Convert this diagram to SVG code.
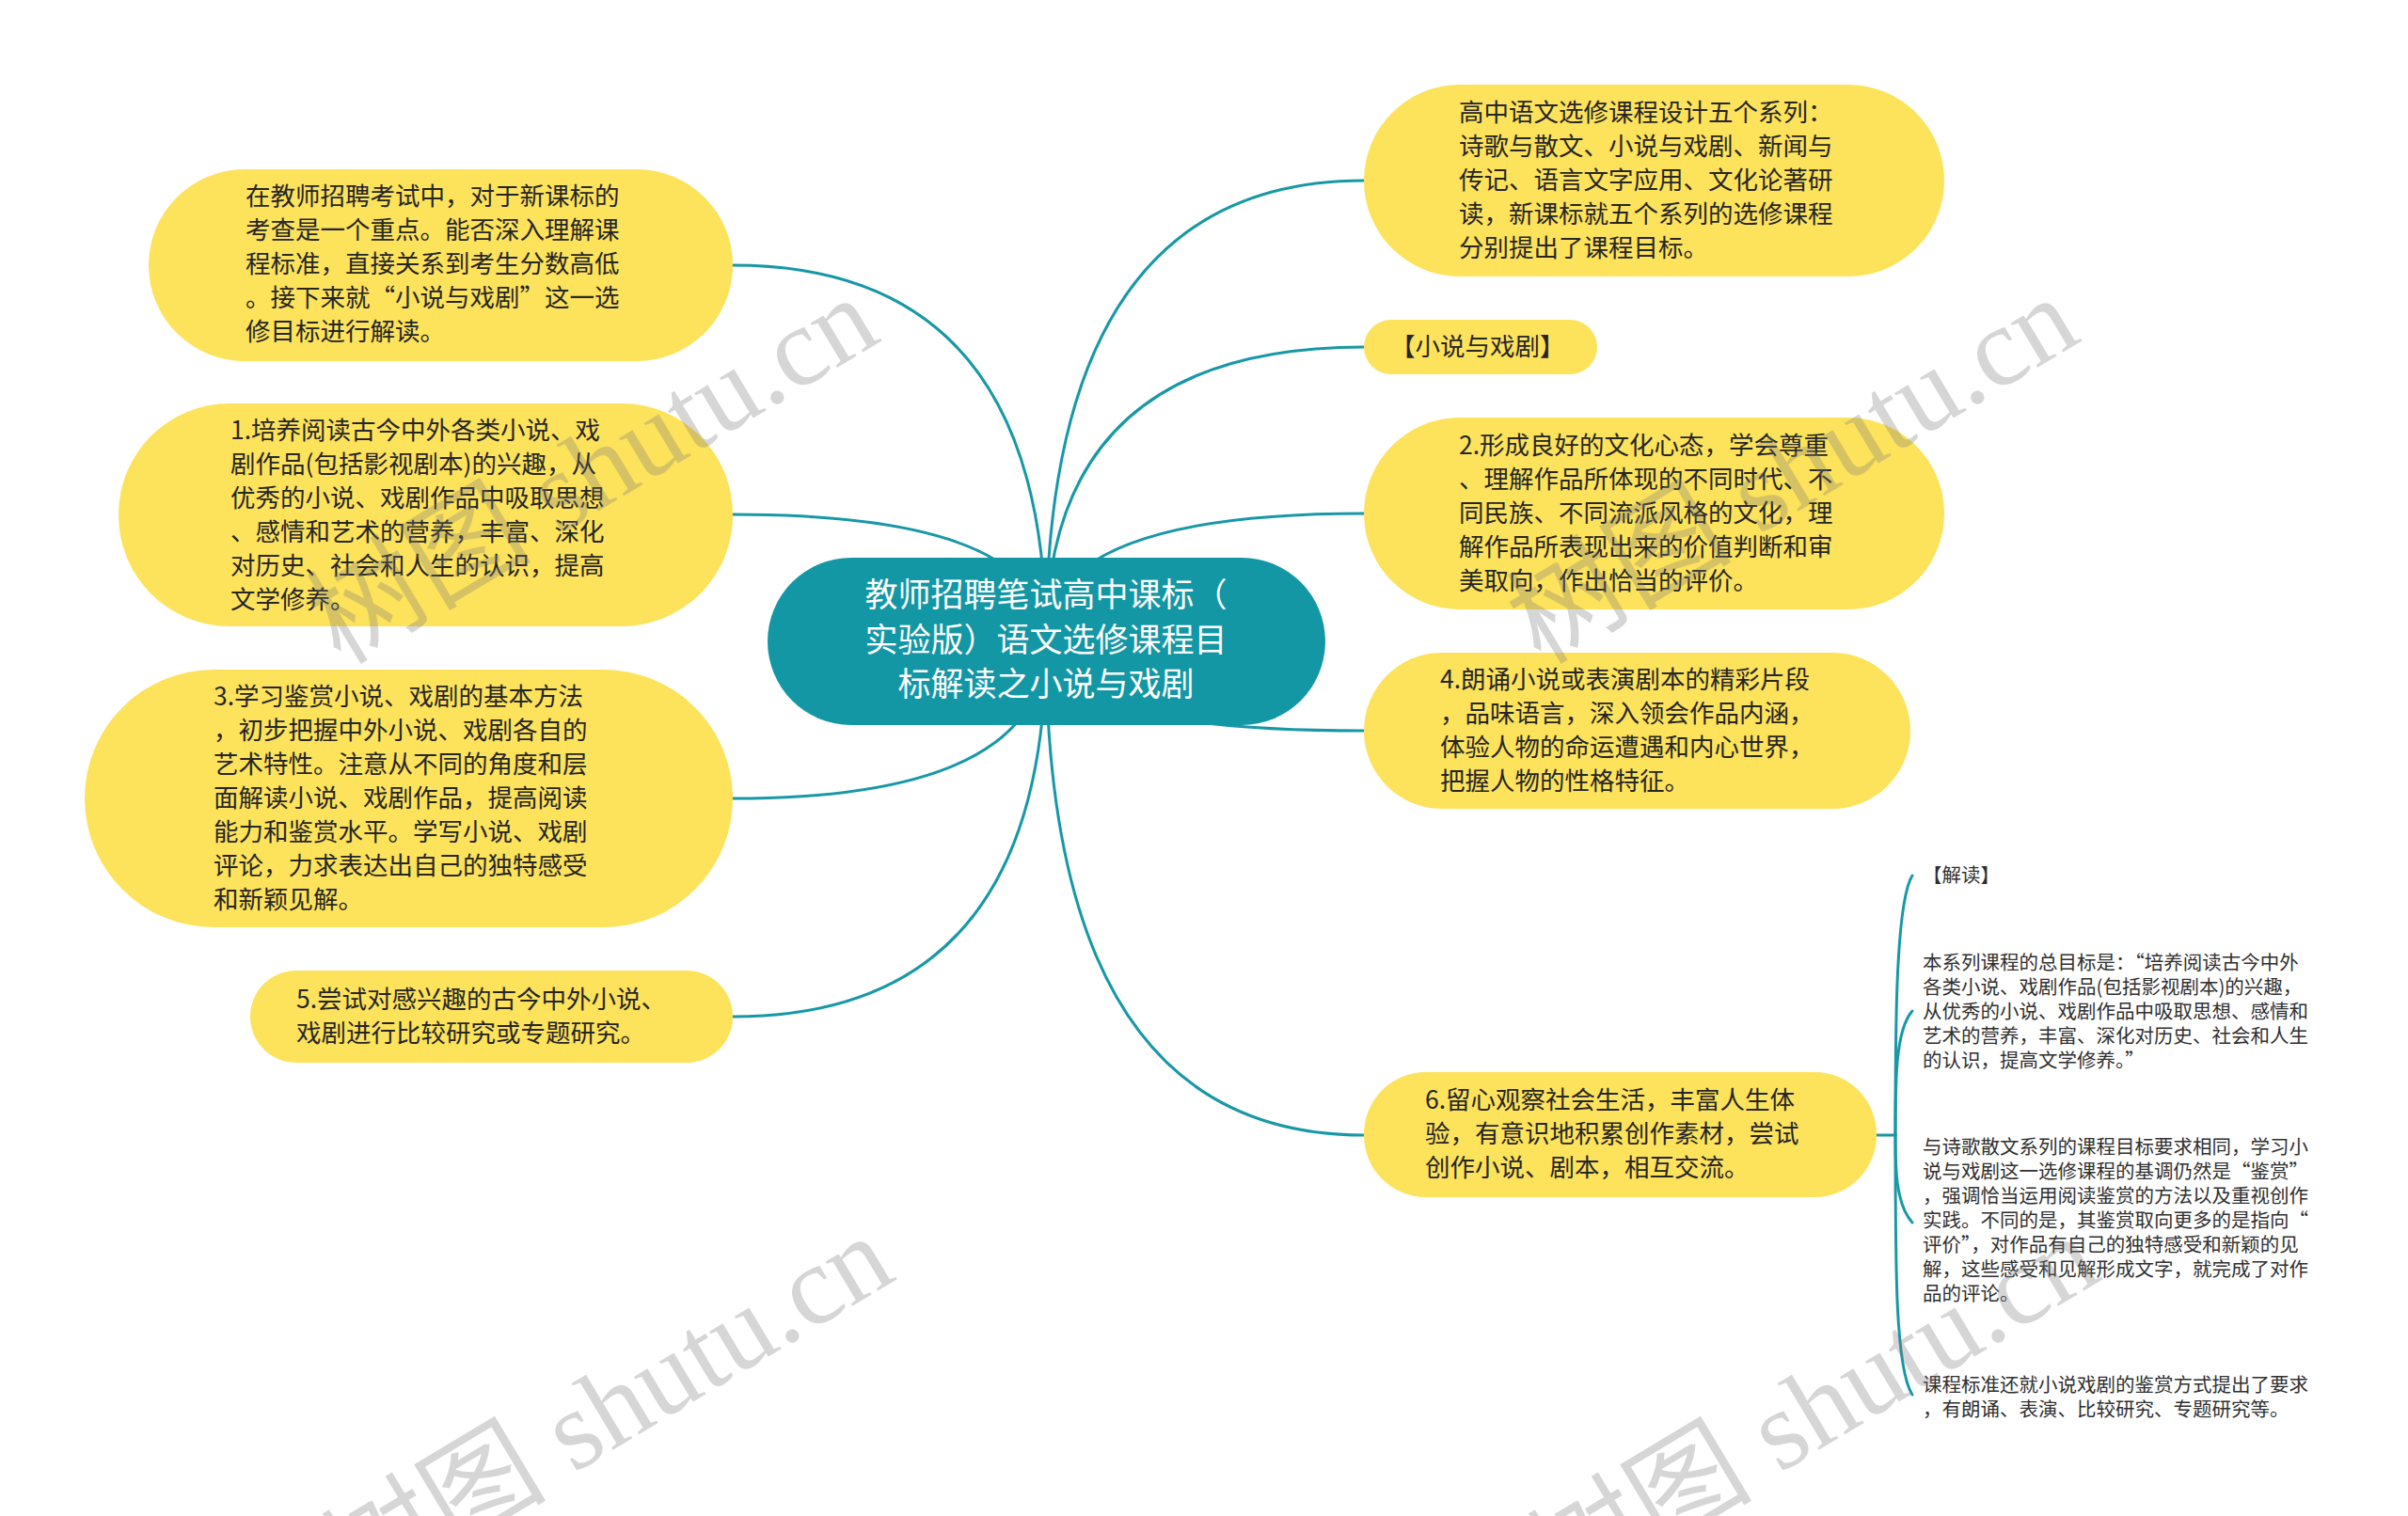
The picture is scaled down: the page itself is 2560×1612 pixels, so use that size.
<svg xmlns="http://www.w3.org/2000/svg" width="2560" height="1612" viewBox="0 0 2560 1612">
<style>
.bg{fill:#ffffff}
.pill{fill:#fde25c}
.root{fill:#1497a5}
.t{font-family:"Noto Sans CJK SC","Noto Sans",sans-serif;font-size:26.5px;fill:#262626}
.s{font-family:"Noto Sans CJK SC","Noto Sans",sans-serif;font-size:20.5px;fill:#303030}
.c{font-family:"Noto Sans CJK SC","Noto Sans",sans-serif;font-size:35px;fill:#ffffff;text-anchor:middle}
.link{fill:none;stroke:#1898a6;stroke-width:3;stroke-linecap:round}
.wm{font-family:"Liberation Serif","Noto Sans CJK SC",serif;font-size:120px;fill:#7a7a7a;opacity:0.3}
</style>
<rect class="bg" x="0" y="0" width="2560" height="1612"/>
<g id="connectors">
<path class="link" d="M1112 682 Q1112 282 779 282"/>
<path class="link" d="M1112 682 Q1112 547 779 547"/>
<path class="link" d="M1112 682 Q1112 849 779 849"/>
<path class="link" d="M1112 682 Q1112 1081 779 1081"/>
<path class="link" d="M1112 682 Q1112 192 1450 192"/>
<path class="link" d="M1112 682 Q1112 369 1450 369"/>
<path class="link" d="M1112 682 Q1112 546 1450 546"/>
<path class="link" d="M1112 682 Q1112 777 1450 777"/>
<path class="link" d="M1112 682 Q1112 1207 1450 1207"/>
<path class="link" d="M1995 1207 L2015 1207"/>
<path class="link" d="M2015 1207 C2015 1100 2015 960 2033 931"/>
<path class="link" d="M2015 1207 C2015 1150 2015 1095 2033 1075"/>
<path class="link" d="M2015 1207 C2015 1240 2015 1280 2033 1300"/>
<path class="link" d="M2015 1207 C2015 1350 2015 1455 2033 1483"/>
</g>
<g id="root">
<rect class="root" x="816" y="593" width="593" height="178" rx="89"/>
<text class="c"><tspan x="1112" y="645">教师招聘笔试高中课标（</tspan><tspan x="1112" y="693">实验版）语文选修课程目</tspan><tspan x="1112" y="740">标解读之小说与戏剧</tspan></text>
</g>
<g id="intro">
<rect class="pill" x="158" y="180" width="621" height="204" rx="102"/>
<text class="t"><tspan x="261" y="218">在教师招聘考试中，对于新课标的</tspan><tspan x="261" y="254">考查是一个重点。能否深入理解课</tspan><tspan x="261" y="290">程标准，直接关系到考生分数高低</tspan><tspan x="261" y="326">。接下来就“小说与戏剧”这一选</tspan><tspan x="261" y="362">修目标进行解读。</tspan></text>
</g>
<g id="goal1">
<rect class="pill" x="126" y="429" width="653" height="237" rx="118"/>
<text class="t"><tspan x="245" y="467">1.培养阅读古今中外各类小说、戏</tspan><tspan x="245" y="503">剧作品(包括影视剧本)的兴趣，从</tspan><tspan x="245" y="539">优秀的小说、戏剧作品中吸取思想</tspan><tspan x="245" y="575">、感情和艺术的营养，丰富、深化</tspan><tspan x="245" y="611">对历史、社会和人生的认识，提高</tspan><tspan x="245" y="647">文学修养。</tspan></text>
</g>
<g id="goal3">
<rect class="pill" x="90" y="712" width="689" height="274" rx="137"/>
<text class="t"><tspan x="227" y="750">3.学习鉴赏小说、戏剧的基本方法</tspan><tspan x="227" y="786">，初步把握中外小说、戏剧各自的</tspan><tspan x="227" y="822">艺术特性。注意从不同的角度和层</tspan><tspan x="227" y="858">面解读小说、戏剧作品，提高阅读</tspan><tspan x="227" y="894">能力和鉴赏水平。学写小说、戏剧</tspan><tspan x="227" y="930">评论，力求表达出自己的独特感受</tspan><tspan x="227" y="966">和新颖见解。</tspan></text>
</g>
<g id="goal5">
<rect class="pill" x="266" y="1032" width="513" height="98" rx="49"/>
<text class="t"><tspan x="315" y="1072">5.尝试对感兴趣的古今中外小说、</tspan><tspan x="315" y="1108">戏剧进行比较研究或专题研究。</tspan></text>
</g>
<g id="series">
<rect class="pill" x="1450" y="90" width="617" height="204" rx="102"/>
<text class="t"><tspan x="1551" y="129">高中语文选修课程设计五个系列：</tspan><tspan x="1551" y="165">诗歌与散文、小说与戏剧、新闻与</tspan><tspan x="1551" y="201">传记、语言文字应用、文化论著研</tspan><tspan x="1551" y="237">读，新课标就五个系列的选修课程</tspan><tspan x="1551" y="273">分别提出了课程目标。</tspan></text>
</g>
<g id="title">
<rect class="pill" x="1450" y="340" width="248" height="58" rx="29"/>
<text class="t" x="1478" y="378">【小说与戏剧】</text>
</g>
<g id="goal2">
<rect class="pill" x="1450" y="444" width="617" height="204" rx="102"/>
<text class="t"><tspan x="1551" y="483">2.形成良好的文化心态，学会尊重</tspan><tspan x="1551" y="519">、理解作品所体现的不同时代、不</tspan><tspan x="1551" y="555">同民族、不同流派风格的文化，理</tspan><tspan x="1551" y="591">解作品所表现出来的价值判断和审</tspan><tspan x="1551" y="627">美取向，作出恰当的评价。</tspan></text>
</g>
<g id="goal4">
<rect class="pill" x="1450" y="694" width="581" height="166" rx="83"/>
<text class="t"><tspan x="1531" y="732">4.朗诵小说或表演剧本的精彩片段</tspan><tspan x="1531" y="768">，品味语言，深入领会作品内涵，</tspan><tspan x="1531" y="804">体验人物的命运遭遇和内心世界，</tspan><tspan x="1531" y="840">把握人物的性格特征。</tspan></text>
</g>
<g id="goal6">
<rect class="pill" x="1450" y="1140" width="545" height="133" rx="66"/>
<text class="t"><tspan x="1515" y="1179">6.留心观察社会生活，丰富人生体</tspan><tspan x="1515" y="1215">验，有意识地积累创作素材，尝试</tspan><tspan x="1515" y="1251">创作小说、剧本，相互交流。</tspan></text>
</g>
<g id="note-title">
<text class="s" x="2044" y="938">【解读】</text>
</g>
<g id="note1">
<text class="s"><tspan x="2044" y="1031">本系列课程的总目标是：“培养阅读古今中外</tspan><tspan x="2044" y="1057">各类小说、戏剧作品(包括影视剧本)的兴趣，</tspan><tspan x="2044" y="1083">从优秀的小说、戏剧作品中吸取思想、感情和</tspan><tspan x="2044" y="1109">艺术的营养，丰富、深化对历史、社会和人生</tspan><tspan x="2044" y="1135">的认识，提高文学修养。”</tspan></text>
</g>
<g id="note2">
<text class="s"><tspan x="2044" y="1227">与诗歌散文系列的课程目标要求相同，学习小</tspan><tspan x="2044" y="1253">说与戏剧这一选修课程的基调仍然是“鉴赏”</tspan><tspan x="2044" y="1279">，强调恰当运用阅读鉴赏的方法以及重视创作</tspan><tspan x="2044" y="1305">实践。不同的是，其鉴赏取向更多的是指向“</tspan><tspan x="2044" y="1331">评价”，对作品有自己的独特感受和新颖的见</tspan><tspan x="2044" y="1357">解，这些感受和见解形成文字，就完成了对作</tspan><tspan x="2044" y="1383">品的评论。</tspan></text>
</g>
<g id="note3">
<text class="s"><tspan x="2044" y="1480">课程标准还就小说戏剧的鉴赏方式提出了要求</tspan><tspan x="2044" y="1506">，有朗诵、表演、比较研究、专题研究等。</tspan></text>
</g>
<g id="watermarks">
<text class="wm" transform="translate(362 708) rotate(-31)">树图 shutu.cn</text>
<text class="wm" transform="translate(1638 708) rotate(-31)">树图 shutu.cn</text>
<text class="wm" transform="translate(378 1706) rotate(-31)">树图 shutu.cn</text>
<text class="wm" transform="translate(1660 1706) rotate(-31)">树图 shutu.cn</text>
</g>
</svg>
